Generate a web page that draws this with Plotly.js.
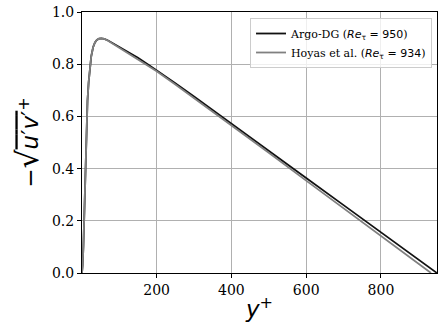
<!DOCTYPE html>
<html>
<head>
<meta charset="utf-8">
<script src="https://cdn.plot.ly/plotly-3.0.1.min.js"></script>
<style>html,body{margin:0;padding:0;background:#fff;}#chart{width:438px;height:324px;}</style>
</head>
<body>
<div id="chart"></div>
<script>
// y+ positions and -u'v'+ values
const argoY  = [0.3, 2, 4, 6, 8, 10, 12, 15, 18, 21, 25, 30, 35, 40, 46, 52, 60, 70, 80, 100, 125, 150, 175, 200, 250, 300, 400, 500, 600, 700, 800, 900, 950];
const argoV  = [0.0, 0.03, 0.1, 0.22, 0.36, 0.47, 0.56, 0.66, 0.73, 0.78, 0.83, 0.865, 0.883, 0.893, 0.898, 0.899, 0.897, 0.891, 0.883, 0.868, 0.846, 0.825, 0.801, 0.777, 0.727, 0.676, 0.573, 0.469, 0.364, 0.26, 0.155, 0.05, 0.0];
const hoyasY = [0.3, 2, 4, 6, 8, 10, 12, 15, 18, 21, 25, 30, 35, 40, 46, 52, 60, 70, 80, 100, 125, 150, 175, 200, 250, 300, 400, 500, 600, 700, 800, 900, 934];
const hoyasV = [0.0, 0.03, 0.1, 0.22, 0.36, 0.47, 0.56, 0.66, 0.73, 0.78, 0.83, 0.865, 0.883, 0.893, 0.898, 0.899, 0.897, 0.890, 0.881, 0.865, 0.843, 0.821, 0.797, 0.773, 0.722, 0.67, 0.566, 0.461, 0.354, 0.248, 0.142, 0.035, 0.0];
const names  = ["Argo-DG (<span style=\"font-family:'DejaVu Sans'\"><i>Re</i><sub>τ</sub> = 950</span>)",
                "Hoyas et al. (<span style=\"font-family:'DejaVu Sans'\"><i>Re</i><sub>τ</sub> = 934</span>)"];
const xTicks = [200, 400, 600, 800];
const yTicks = [0.0, 0.2, 0.4, 0.6, 0.8, 1.0];

const traces = [
  {x: argoY, y: argoV, name: names[0], mode: 'lines', line: {color: '#111111', width: 1.8}},
  {x: hoyasY, y: hoyasV, name: names[1], mode: 'lines', line: {color: '#808080', width: 1.8}}
];

const axisCommon = {
  showline: true, mirror: true, linecolor: '#000', linewidth: 1,
  ticks: 'outside', ticklen: 4, tickwidth: 1, tickcolor: '#000',
  showgrid: true, gridcolor: '#b0b0b0', gridwidth: 1, zeroline: false,
  tickfont: {family: 'DejaVu Serif', size: 14, color: '#000'}
};

const layout = {
  width: 438, height: 324,
  margin: {l: 82, r: 1, t: 12, b: 51},
  paper_bgcolor: '#fff', plot_bgcolor: '#fff',
  showlegend: true,
  legend: {
    x: 0.986, y: 0.977, xanchor: 'right', yanchor: 'top',
    bgcolor: 'rgba(255,255,255,0.8)', bordercolor: '#cccccc', borderwidth: 1,
    font: {family: 'DejaVu Serif', size: 11, color: '#000'},
    tracegroupgap: 0
  },
  xaxis: Object.assign({}, axisCommon, {
    range: [0.3, 950], tickvals: xTicks, ticktext: xTicks.map(String),
    title: {text: '<i>y</i><sup>+</sup>', font: {family: 'DejaVu Sans', size: 23, color: '#000'}, standoff: 4}
  }),
  yaxis: Object.assign({}, axisCommon, {
    range: [0, 1], tickvals: yTicks, ticktext: yTicks.map(v => v.toFixed(1)),
    title: {text: "−<span style=\"font-size:30px\">√</span><span style=\"text-decoration:overline\"><i>u</i>′<i>v</i>′</span><sup>+</sup>", font: {family: 'DejaVu Sans', size: 23, color: '#000'}, standoff: 6}
  })
};

Plotly.newPlot('chart', traces, layout, {staticPlot: true, displayModeBar: false});
</script>
</body>
</html>
